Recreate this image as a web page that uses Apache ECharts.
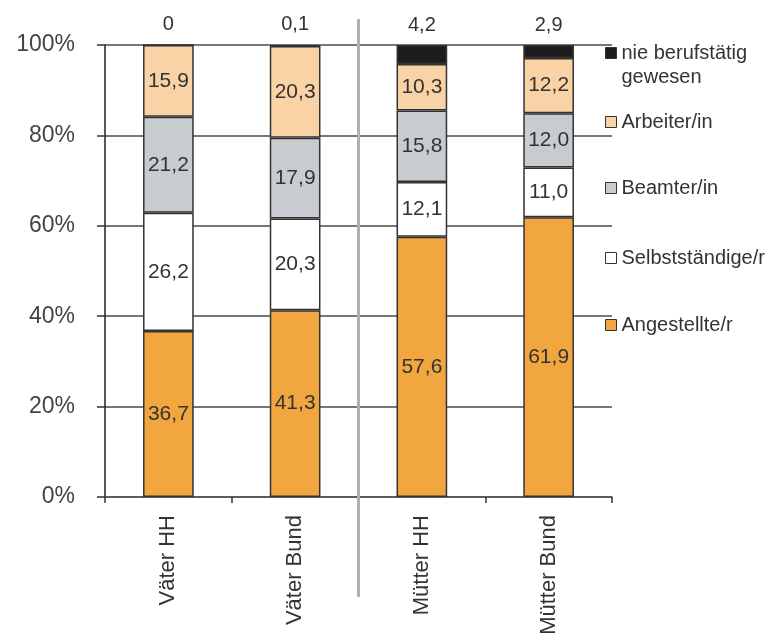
<!DOCTYPE html>
<html>
<head>
<meta charset="utf-8">
<script src="https://cdn.jsdelivr.net/npm/echarts@6/dist/echarts.min.js"></script>
<style>
html,body{margin:0;padding:0;background:#fff;}
#c{width:777px;height:642px;}
</style>
</head>
<body>
<div id="c"></div>
<script>
var categories = ['Väter HH', 'Väter Bund', 'Mütter HH', 'Mütter Bund'];
var angestellte = [36.7, 41.3, 57.6, 61.9];
var selbststaendige = [26.2, 20.3, 12.1, 11.0];
var beamte = [21.2, 17.9, 15.8, 12.0];
var arbeiter = [15.9, 20.3, 10.3, 12.2];
var nieBerufstaetig = [0, 0.1, 4.2, 2.9];
var yTicks = [0, 20, 40, 60, 80, 100];

var FONT = '"Liberation Sans", Arial, sans-serif';
function fmt(v) { return v === 0 ? '0' : v.toFixed(1).replace('.', ','); }

var chart = echarts.init(document.getElementById('c'), null, {renderer: 'canvas'});

function barSeries(name, data, color, labelOn) {
  return {
    name: name,
    type: 'bar',
    stack: 'total',
    barWidth: '40%',
    data: data,
    itemStyle: {color: color, borderColor: '#333', borderWidth: 1.5},
    label: labelOn ? {
      show: true, position: 'inside', color: '#333', fontFamily: FONT, fontSize: 21,
      formatter: function (p) { return fmt(p.value); }
    } : {show: false},
    emphasis: {disabled: true},
    z: 3
  };
}

var nieSeries = barSeries('nie berufstätig gewesen', nieBerufstaetig, '#1c1c1c', false);
nieSeries.label = {
  show: true, position: 'top', distance: 10, color: '#333', fontFamily: FONT, fontSize: 20,
  formatter: function (p) { return fmt(p.value); }
};

function legendFor(name, top, multi) {
  return {
    data: [{name: name, icon: 'rect'}],
    left: 605,
    top: top,
    padding: 0,
    orient: 'vertical',
    itemWidth: 11,
    itemHeight: 11,
    selectedMode: false,
    itemStyle: {borderColor: '#333', borderWidth: 1},
    formatter: multi ? function () { return '\u00a0\nnie berufstätig\ngewesen'; } : undefined,
    textStyle: {color: '#333', fontFamily: FONT, fontSize: 20, lineHeight: 24}
  };
}

var option = {
  animation: false,
  backgroundColor: '#fff',
  grid: {left: 105, right: 165, top: 45, bottom: 145},
  legend: [
    legendFor('nie berufstätig gewesen', 17, true),
    legendFor('Arbeiter/in', 110, false),
    legendFor('Beamter/in', 176, false),
    legendFor('Selbstständige/r', 246, false),
    legendFor('Angestellte/r', 313, false)
  ],
  xAxis: {
    type: 'category',
    data: categories,
    boundaryGap: true,
    axisLine: {lineStyle: {color: '#555', width: 1.5}},
    axisTick: {show: true, length: 6, lineStyle: {color: '#333', width: 1.5}},
    axisLabel: {rotate: 90, margin: 18, color: '#333', fontFamily: FONT, fontSize: 22}
  },
  yAxis: {
    type: 'value',
    min: yTicks[0],
    max: yTicks[yTicks.length - 1],
    interval: 20,
    axisLine: {show: true, lineStyle: {color: '#222', width: 1.5}},
    axisTick: {show: true, length: 8, lineStyle: {color: '#333', width: 1.5}},
    axisLabel: {margin: 30, color: '#444', fontFamily: FONT, fontSize: 23, formatter: '{value}%'},
    splitLine: {show: true, lineStyle: {color: '#4a4a4a', width: 1.5}}
  },
  series: [
    barSeries('Angestellte/r', angestellte, '#F2A640', true),
    barSeries('Selbstständige/r', selbststaendige, '#ffffff', true),
    barSeries('Beamter/in', beamte, '#C8CBCF', true),
    barSeries('Arbeiter/in', arbeiter, '#F9D2A6', true),
    nieSeries
  ]
};
chart.setOption(option);

var x1 = chart.convertToPixel({xAxisIndex: 0}, categories[1]);
var x2 = chart.convertToPixel({xAxisIndex: 0}, categories[2]);
var xd = (x1 + x2) / 2;
chart.setOption({
  graphic: [{
    type: 'line',
    shape: {x1: xd, y1: 19, x2: xd, y2: 597},
    style: {stroke: '#b0b0b0', lineWidth: 3},
    z: 100
  }]
});
</script>
</body>
</html>
